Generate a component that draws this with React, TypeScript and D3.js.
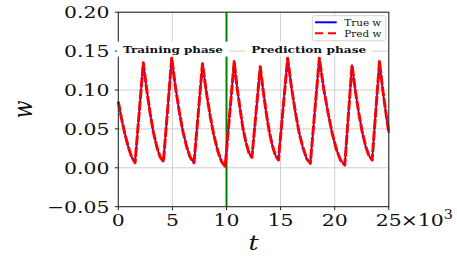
import React from "react";
import * as d3 from "d3";

// time in units of 10^3
const tVals = [
  0, 0.3, 0.6, 0.9, 1.2, 1.55,
  2.31, 2.63, 2.94, 3.24, 3.56, 3.86, 4.17,
  4.94, 5.29, 5.64, 5.97, 6.32, 6.66, 7.0,
  7.78, 8.14, 8.5, 8.83, 9.19, 9.54, 9.88,
  10.71, 10.99, 11.27, 11.53, 11.81, 12.08, 12.35,
  13.12, 13.41, 13.69, 13.96, 14.25, 14.52, 14.8,
  15.65, 16.01, 16.36, 16.7, 17.06, 17.4, 17.75,
  18.58, 18.98, 19.38, 19.76, 20.15, 20.53, 20.93,
  21.6, 21.92, 22.23, 22.53, 22.85, 23.15, 23.46,
  24.14, 24.44, 24.74, 25,
];
const trueW = [
  0.085, 0.063, 0.044, 0.028, 0.015, 0.0065,
  0.135, 0.1, 0.0705, 0.046, 0.027, 0.014, 0.008,
  0.141, 0.103, 0.072, 0.047, 0.027, 0.013, 0.0065,
  0.1336, 0.097, 0.066, 0.042, 0.022, 0.008, 0.002,
  0.1366, 0.102, 0.074, 0.05, 0.032, 0.019, 0.0134,
  0.13, 0.097, 0.069, 0.046, 0.028, 0.016, 0.01,
  0.141, 0.103, 0.072, 0.046, 0.026, 0.012, 0.0057,
  0.141, 0.102, 0.071, 0.045, 0.024, 0.01, 0.0035,
  0.132, 0.098, 0.07, 0.047, 0.028, 0.016, 0.01,
  0.1366, 0.1, 0.07, 0.045,
];
const predW = [...trueW];

const xTicks = [0, 5, 10, 15, 20, 25];
const yTicks = [-0.05, 0, 0.05, 0.1, 0.15, 0.2];
const yTickLabels = ["\u22120.05", "0.00", "0.05", "0.10", "0.15", "0.20"];
const splitT = 10;
const phaseLabels = [
  { text: "Training phase", t: 5.05, w: 0.15, width: 100 },
  { text: "Prediction phase", t: 17.6, w: 0.15, width: 115 },
];
const legendItems = [
  { label: "True w", color: "#0000ff", dash: null },
  { label: "Pred w", color: "#ff0000", dash: "8,5" },
];

const W = 457;
const H = 262;
const SERIF = "'DejaVu Serif', serif";
const SX = 1.2; // horizontal stretch seen in the reference text

const x = d3.scaleLinear().domain([0, 25]).range([118.3, 388.8]);
const y = d3.scaleLinear().domain([-0.05, 0.2]).range([206.7, 12.2]);

const Stretch = ({ px, py, anchor, size, children }: any) => (
  <text
    transform={`translate(${px},${py}) scale(${SX},1)`}
    textAnchor={anchor}
    fontSize={size}
    fontFamily={SERIF}
    fill="#111"
  >
    {children}
  </text>
);

export default function App() {
  const pts = tVals.map((t, i) => [t, trueW[i]] as [number, number]);
  const ptsPred = tVals.map((t, i) => [t, predW[i]] as [number, number]);
  const line = d3
    .line<[number, number]>()
    .x((d) => x(d[0]))
    .y((d) => y(d[1]))
    .curve(d3.curveLinear);

  const [x0, x1] = x.range();
  const [y0, y1] = y.range();

  return (
    <svg
      width={W}
      height={H}
      style={{ position: "fixed", left: 0, top: 0, background: "#fff" }}
    >
      {/* grid */}
      <g stroke="#cfcfcf" strokeWidth={1}>
        {xTicks.map((t) => (
          <line key={"gx" + t} x1={x(t)} x2={x(t)} y1={y0} y2={y1} />
        ))}
        {yTicks.map((v) => (
          <line key={"gy" + v} x1={x0} x2={x1} y1={y(v)} y2={y(v)} />
        ))}
      </g>

      {/* phase split */}
      <line
        x1={x(splitT)}
        x2={x(splitT)}
        y1={y0}
        y2={y1}
        stroke="#008000"
        strokeWidth={2}
      />

      {/* curves */}
      <path
        d={line(pts) || ""}
        fill="none"
        stroke="#0000ff"
        strokeWidth={1.6}
        strokeLinejoin="round"
      />
      <path
        d={line(ptsPred) || ""}
        fill="none"
        stroke="#ff0000"
        strokeWidth={3}
        strokeDasharray="10,1.6"
        strokeLinejoin="round"
      />

      {/* spines */}
      <rect
        x={x0}
        y={y1}
        width={x1 - x0}
        height={y0 - y1}
        fill="none"
        stroke="#222"
        strokeWidth={1}
      />

      {/* ticks */}
      <g stroke="#222" strokeWidth={1}>
        {xTicks.map((t) => (
          <line key={"tx" + t} x1={x(t)} x2={x(t)} y1={y0} y2={y0 + 3.5} />
        ))}
        {yTicks.map((v) => (
          <line key={"ty" + v} x1={x0 - 3.5} x2={x0} y1={y(v)} y2={y(v)} />
        ))}
      </g>

      {/* phase labels */}
      {phaseLabels.map((p) => {
        const cx = x(p.t);
        const cy = y(p.w) - 2;
        return (
          <g key={p.text}>
            <rect
              x={cx - p.width / 2 - 6}
              y={cy - 7.5}
              width={p.width + 12}
              height={15}
              fill="#fff"
            />
            <text
              x={cx}
              y={cy + 3.6}
              textAnchor="middle"
              fontFamily={SERIF}
              fontWeight="bold"
              fontSize={10}
              textLength={p.width}
              lengthAdjust="spacingAndGlyphs"
              fill="#111"
            >
              {p.text}
            </text>
          </g>
        );
      })}

      {/* tick labels */}
      {xTicks.map((t) => (
        <Stretch key={"lx" + t} px={x(t)} py={226} anchor="middle" size={17}>
          {t}
        </Stretch>
      ))}
      <Stretch px={x(25) + 12} py={226} anchor="start" size={17}>
        {"\u00d710"}
        <tspan dy={-7} fontSize={12}>
          3
        </tspan>
      </Stretch>
      {yTicks.map((v, i) => (
        <Stretch
          key={"ly" + v}
          px={109.5}
          py={y(v) + 6.2}
          anchor="end"
          size={17}
        >
          {yTickLabels[i]}
        </Stretch>
      ))}

      {/* axis labels */}
      <text
        transform={`translate(${(x0 + x1) / 2},250) scale(${SX},1)`}
        textAnchor="middle"
        fontFamily={SERIF}
        fontStyle="italic"
        fontSize={21}
        fill="#111"
      >
        t
      </text>
      <text
        transform={`translate(32,${(y0 + y1) / 2}) rotate(-90) scale(1,${SX})`}
        textAnchor="middle"
        fontFamily={SERIF}
        fontStyle="italic"
        fontSize={21}
        fill="#111"
      >
        w
      </text>

      {/* legend */}
      <g>
        <rect
          x={312.3}
          y={15.7}
          width={73.4}
          height={25}
          rx={2.5}
          fill="#fff"
          fillOpacity={0.9}
          stroke="#d5d5d5"
          strokeWidth={1}
        />
        {legendItems.map((it, i) => {
          const ly = 22.3 + i * 11;
          return (
            <g key={it.label}>
              <line
                x1={315}
                x2={336.7}
                y1={ly}
                y2={ly}
                stroke={it.color}
                strokeWidth={2}
                strokeDasharray={it.dash || undefined}
              />
              <text
                x={344.3}
                y={ly + 3.3}
                fontFamily={SERIF}
                fontSize={9.3}
                textLength={37}
                lengthAdjust="spacingAndGlyphs"
                fill="#111"
              >
                {it.label}
              </text>
            </g>
          );
        })}
      </g>
    </svg>
  );
}
